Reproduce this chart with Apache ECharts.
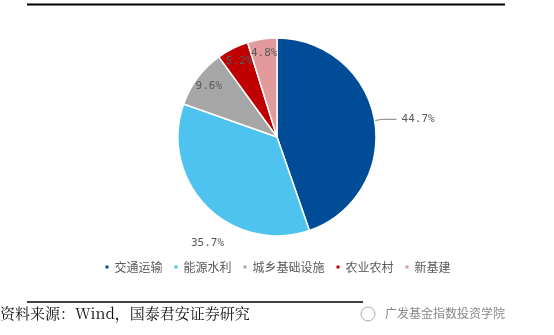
<!DOCTYPE html>
<html><head><meta charset="utf-8">
<script src="https://cdn.jsdelivr.net/npm/echarts@6/dist/echarts.min.js"></script>
<style>html,body{margin:0;padding:0;background:#fff}#c{width:554px;height:335px}</style>
</head><body><div id="c"></div>
<script>
const categories = ['交通运输', '能源水利', '城乡基础设施', '农业农村', '新基建'];
const values = [44.7, 35.7, 9.6, 5.2, 4.8];
const colors = ['#004C97', '#4FC3F0', '#A6A6A6', '#C00000', '#E39A9A'];
const sourceText = '资料来源：Wind，国泰君安证券研究';
const watermark = '广发基金指数投资学院';

const chart = echarts.init(document.getElementById('c'));
const center = [277, 137];
const R = 99;
const mainData = categories.map((n, i) => ({
  name: n, value: values[i], itemStyle: { color: colors[i] },
  label: { show: i <= 1 },
  labelLine: { show: i === 0 }
}));
const overlayData = categories.map((n, i) => ({
  name: n, value: values[i],
  label: { show: i >= 2 }
}));
chart.setOption({
  animation: false,
  color: colors,
  legend: {
    data: categories, bottom: 57, left: 'center',
    icon: 'rect', itemWidth: 5, itemHeight: 5, itemGap: 10,
    textStyle: { color: '#595959', fontSize: 12, fontFamily: 'Noto Sans CJK SC' }
  },
  series: [{
    type: 'pie', center: center, radius: [0, R], startAngle: 90, clockwise: true,
    data: mainData, silent: true, avoidLabelOverlap: false,
    itemStyle: { borderColor: '#fff', borderWidth: 1.5 },
    label: { position: 'outside', formatter: '{c}%', color: '#595959', fontSize: 11, fontFamily: 'DejaVu Sans Mono' },
    labelLine: { length: 8, length2: 14, lineStyle: { color: '#7f7f7f', width: 1 } },
    labelLayout: function (p) { if (p.dataIndex === 1) return { dx: 42, dy: 31 }; }
  }, {
    type: 'pie', center: center, radius: [0, 164], startAngle: 90, clockwise: true,
    data: overlayData, silent: true, z: 5, avoidLabelOverlap: false,
    itemStyle: { color: 'rgba(0,0,0,0)' },
    label: { position: 'inside', formatter: '{c}%', color: '#595959', fontSize: 11, fontFamily: 'DejaVu Sans Mono' },
    labelLayout: { hideOverlap: false },
    labelLine: { show: false }
  }],
  graphic: [
    { type: 'line', shape: { x1: 27, y1: 4.5, x2: 505, y2: 4.5 }, style: { stroke: '#000', lineWidth: 2 } },
    { type: 'line', shape: { x1: 27, y1: 302, x2: 363, y2: 302 }, style: { stroke: '#000', lineWidth: 1.5 } },
    { type: 'text', left: 0, top: 306, style: { text: sourceText, fill: '#111', fontSize: 15, fontFamily: 'Noto Serif CJK SC, Liberation Serif, Noto Sans CJK SC' } },
    { type: 'circle', shape: { cx: 368, cy: 314, r: 7 }, style: { fill: 'none', stroke: '#aaa', lineWidth: 1 } },
    { type: 'text', left: 385, top: 307, style: { text: watermark, fill: '#888', fontSize: 12, fontFamily: 'Noto Sans CJK SC' } }
  ]
});
</script></body></html>
